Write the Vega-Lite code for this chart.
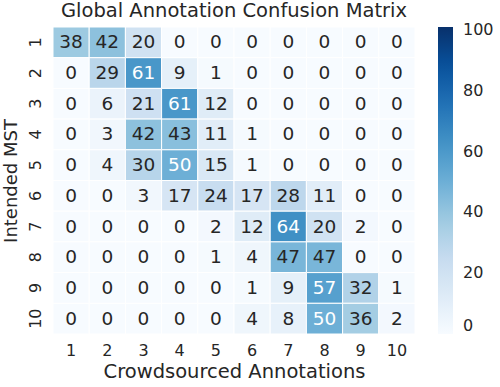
{
  "$schema": "https://vega.github.io/schema/vega-lite/v6.json",
  "width": 362,
  "height": 307,
  "autosize": "none",
  "padding": {"left": 53, "top": 27, "right": 85, "bottom": 53},
  "background": "white",
  "config": {
    "font": "DejaVu Sans",
    "view": {"stroke": null},
    "axis": {"domain": false, "ticks": false, "grid": false, "labelColor": "#262626", "titleColor": "#262626", "labelFont": "DejaVu Sans", "titleFont": "DejaVu Sans", "labelFontSize": 16, "titleFontSize": 19.5, "titleFontWeight": "normal"},
    "legend": {"labelFont": "DejaVu Sans", "labelFontSize": 16, "labelColor": "#262626"},
    "title": {"font": "DejaVu Sans", "fontSize": 19.5, "fontWeight": "normal", "color": "#262626"}
  },
  "title": {"text": "Global Annotation Confusion Matrix", "offset": 5},
  "data": {
    "values": [
      {"r": 1, "c": 1, "v": 38}, {"r": 1, "c": 2, "v": 42}, {"r": 1, "c": 3, "v": 20}, {"r": 1, "c": 4, "v": 0}, {"r": 1, "c": 5, "v": 0}, {"r": 1, "c": 6, "v": 0}, {"r": 1, "c": 7, "v": 0}, {"r": 1, "c": 8, "v": 0}, {"r": 1, "c": 9, "v": 0}, {"r": 1, "c": 10, "v": 0},
      {"r": 2, "c": 1, "v": 0}, {"r": 2, "c": 2, "v": 29}, {"r": 2, "c": 3, "v": 61}, {"r": 2, "c": 4, "v": 9}, {"r": 2, "c": 5, "v": 1}, {"r": 2, "c": 6, "v": 0}, {"r": 2, "c": 7, "v": 0}, {"r": 2, "c": 8, "v": 0}, {"r": 2, "c": 9, "v": 0}, {"r": 2, "c": 10, "v": 0},
      {"r": 3, "c": 1, "v": 0}, {"r": 3, "c": 2, "v": 6}, {"r": 3, "c": 3, "v": 21}, {"r": 3, "c": 4, "v": 61}, {"r": 3, "c": 5, "v": 12}, {"r": 3, "c": 6, "v": 0}, {"r": 3, "c": 7, "v": 0}, {"r": 3, "c": 8, "v": 0}, {"r": 3, "c": 9, "v": 0}, {"r": 3, "c": 10, "v": 0},
      {"r": 4, "c": 1, "v": 0}, {"r": 4, "c": 2, "v": 3}, {"r": 4, "c": 3, "v": 42}, {"r": 4, "c": 4, "v": 43}, {"r": 4, "c": 5, "v": 11}, {"r": 4, "c": 6, "v": 1}, {"r": 4, "c": 7, "v": 0}, {"r": 4, "c": 8, "v": 0}, {"r": 4, "c": 9, "v": 0}, {"r": 4, "c": 10, "v": 0},
      {"r": 5, "c": 1, "v": 0}, {"r": 5, "c": 2, "v": 4}, {"r": 5, "c": 3, "v": 30}, {"r": 5, "c": 4, "v": 50}, {"r": 5, "c": 5, "v": 15}, {"r": 5, "c": 6, "v": 1}, {"r": 5, "c": 7, "v": 0}, {"r": 5, "c": 8, "v": 0}, {"r": 5, "c": 9, "v": 0}, {"r": 5, "c": 10, "v": 0},
      {"r": 6, "c": 1, "v": 0}, {"r": 6, "c": 2, "v": 0}, {"r": 6, "c": 3, "v": 3}, {"r": 6, "c": 4, "v": 17}, {"r": 6, "c": 5, "v": 24}, {"r": 6, "c": 6, "v": 17}, {"r": 6, "c": 7, "v": 28}, {"r": 6, "c": 8, "v": 11}, {"r": 6, "c": 9, "v": 0}, {"r": 6, "c": 10, "v": 0},
      {"r": 7, "c": 1, "v": 0}, {"r": 7, "c": 2, "v": 0}, {"r": 7, "c": 3, "v": 0}, {"r": 7, "c": 4, "v": 0}, {"r": 7, "c": 5, "v": 2}, {"r": 7, "c": 6, "v": 12}, {"r": 7, "c": 7, "v": 64}, {"r": 7, "c": 8, "v": 20}, {"r": 7, "c": 9, "v": 2}, {"r": 7, "c": 10, "v": 0},
      {"r": 8, "c": 1, "v": 0}, {"r": 8, "c": 2, "v": 0}, {"r": 8, "c": 3, "v": 0}, {"r": 8, "c": 4, "v": 0}, {"r": 8, "c": 5, "v": 1}, {"r": 8, "c": 6, "v": 4}, {"r": 8, "c": 7, "v": 47}, {"r": 8, "c": 8, "v": 47}, {"r": 8, "c": 9, "v": 0}, {"r": 8, "c": 10, "v": 0},
      {"r": 9, "c": 1, "v": 0}, {"r": 9, "c": 2, "v": 0}, {"r": 9, "c": 3, "v": 0}, {"r": 9, "c": 4, "v": 0}, {"r": 9, "c": 5, "v": 0}, {"r": 9, "c": 6, "v": 1}, {"r": 9, "c": 7, "v": 9}, {"r": 9, "c": 8, "v": 57}, {"r": 9, "c": 9, "v": 32}, {"r": 9, "c": 10, "v": 1},
      {"r": 10, "c": 1, "v": 0}, {"r": 10, "c": 2, "v": 0}, {"r": 10, "c": 3, "v": 0}, {"r": 10, "c": 4, "v": 0}, {"r": 10, "c": 5, "v": 0}, {"r": 10, "c": 6, "v": 4}, {"r": 10, "c": 7, "v": 8}, {"r": 10, "c": 8, "v": 50}, {"r": 10, "c": 9, "v": 36}, {"r": 10, "c": 10, "v": 2}
    ]
  },
  "encoding": {
    "x": {"field": "c", "type": "ordinal", "title": "Crowdsourced Annotations", "scale": {"paddingInner": 0, "paddingOuter": 0}, "axis": {"orient": "bottom", "labelAngle": 0, "labelPadding": 8, "titlePadding": 4}},
    "y": {"field": "r", "type": "ordinal", "title": "Intended MST", "scale": {"paddingInner": 0, "paddingOuter": 0}, "axis": {"labelAngle": -90, "labelAlign": "center", "labelBaseline": "bottom", "labelPadding": 10, "titlePadding": 7, "titleFontSize": 18}}
  },
  "layer": [
    {
      "mark": {"type": "rect", "stroke": "white", "strokeWidth": 1},
      "encoding": {
        "color": {
          "field": "v", "type": "quantitative",
          "scale": {
            "domain": [0, 12.625, 25.25, 37.875, 50.5, 63.125, 75.75, 88.375, 101],
            "range": ["#f7fbff", "#deebf7", "#c6dbef", "#9ecae1", "#6baed6", "#4292c6", "#2171b5", "#08519c", "#08306b"],
            "interpolate": "rgb"
          },
          "legend": {"title": null, "orient": "right", "offset": 23, "gradientLength": 307, "gradientThickness": 15, "gradientStrokeWidth": 0, "values": [0, 20, 40, 60, 80, 100], "labelOffset": 10, "labelOverlap": false}
        }
      }
    },
    {
      "mark": {"type": "text", "fontSize": 18.5, "font": "DejaVu Sans"},
      "encoding": {
        "text": {"field": "v", "type": "quantitative"},
        "color": {"condition": {"test": "datum.v >= 49", "value": "white"}, "value": "#262626"}
      }
    }
  ]
}
